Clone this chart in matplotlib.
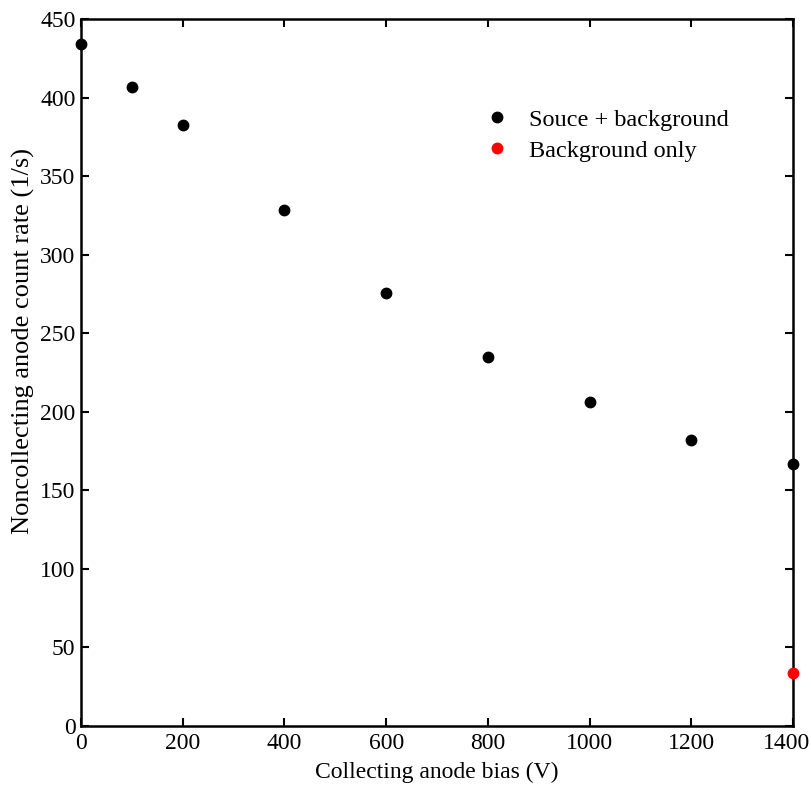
import matplotlib
matplotlib.use("Agg")
import matplotlib.pyplot as plt
import matplotlib.transforms as mtransforms

# collecting anode bias (V) and noncollecting anode count rate (1/s)
bias = [0, 100, 200, 400, 600, 800, 1000, 1200, 1400]
rate_src = [434, 407, 382.5, 328.5, 275.5, 235, 206, 182, 167]
bias_bg = [1400]
rate_bg = [33.5]

plt.rcParams['font.family'] = ['Liberation Serif', 'DejaVu Serif']
plt.rcParams['font.size'] = 17

fig = plt.figure(figsize=(8.12, 7.85), dpi=100)
ax = fig.add_axes([0.0998, 0.0752, 0.8768, 0.9006])

ax.plot(bias, rate_src, 'o', color='black', markersize=7.5, clip_on=False,
        label='Souce + background', zorder=3)
ax.plot(bias_bg, rate_bg, 'o', color='red', markersize=7.5, clip_on=False,
        label='Background only', zorder=3)

ax.set_xlim(0, 1400)
ax.set_ylim(0, 450)
ax.set_xticks(range(0, 1401, 200))
ax.set_yticks(range(0, 451, 50))
ax.tick_params(direction='in', top=True, right=True, length=6, width=1.5)
ax.tick_params(axis='x', pad=5)
ax.tick_params(axis='y', pad=4)
for s in ax.spines.values():
    s.set_linewidth(1.8)

# last x label is pulled in a little so it stays inside the figure
last = ax.get_xticklabels()[-1]
last.set_transform(last.get_transform() +
                   mtransforms.ScaledTranslation(-6 / 100, 0, fig.dpi_scale_trans))

ax.set_xlabel('Collecting anode bias (V)', labelpad=6)
ax.set_ylabel('Noncollecting anode count rate (1/s)', fontsize=19)
ax.yaxis.set_label_coords(-0.064, 0.545)

ax.legend(loc='upper left', bbox_to_anchor=(0.553, 0.887), frameon=False,
          handlelength=1.0, handletextpad=0.85, labelspacing=0.38,
          borderaxespad=0, fontsize=17.5)

fig.savefig('out.png', dpi=100)
